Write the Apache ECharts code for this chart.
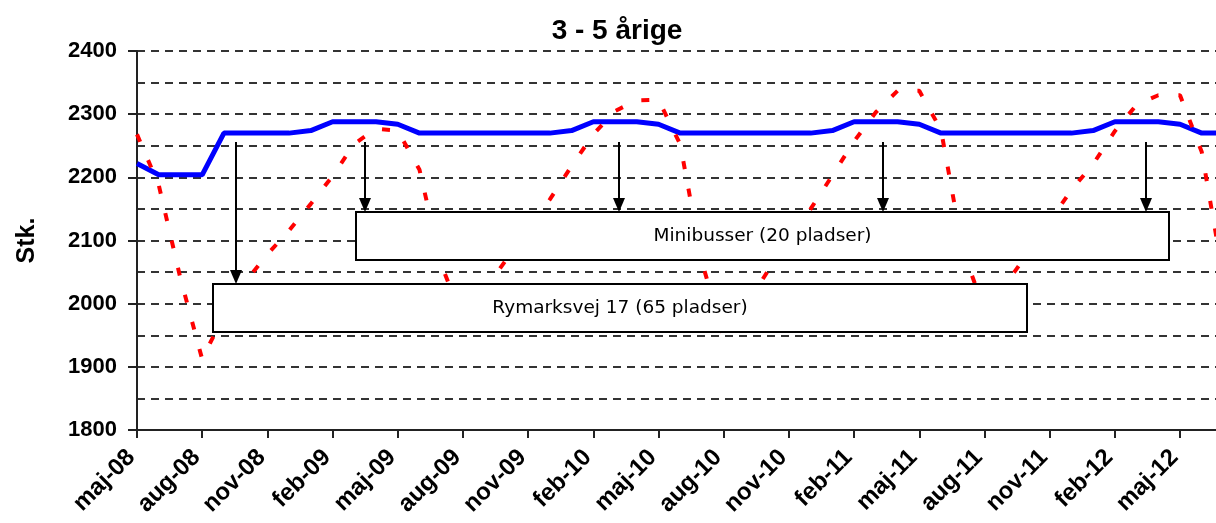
<!DOCTYPE html>
<html>
<head>
<meta charset="utf-8">
<script src="https://cdn.jsdelivr.net/npm/echarts@6/dist/echarts.min.js"></script>
<style>
html,body{margin:0;padding:0;background:#fff;}
#chart{width:1216px;height:523px;}
</style>
</head>
<body>
<div id="chart"></div>
<script>
const title = '3 - 5 årige';
const yAxisName = 'Stk.';
const categories = ['maj-08','jun-08','jul-08','aug-08','sep-08','okt-08','nov-08','dec-08',
  'jan-09','feb-09','mar-09','apr-09','maj-09','jun-09','jul-09','aug-09','sep-09','okt-09','nov-09','dec-09',
  'jan-10','feb-10','mar-10','apr-10','maj-10','jun-10','jul-10','aug-10','sep-10','okt-10','nov-10','dec-10',
  'jan-11','feb-11','mar-11','apr-11','maj-11','jun-11','jul-11','aug-11','sep-11','okt-11','nov-11','dec-11',
  'jan-12','feb-12','mar-12','apr-12','maj-12','jun-12','jul-12'];
// blue line (capacity)
const capacity = [2222,2204,2204,2204,2270,2270,2270,2270,
  2274,2288,2288,2288,2284,2270,2270,2270,2270,2270,2270,2270,
  2274,2288,2288,2288,2284,2270,2270,2270,2270,2270,2270,2270,
  2274,2288,2288,2288,2284,2270,2270,2270,2270,2270,2270,2270,
  2274,2288,2288,2288,2284,2270,2270];
// red dashed line (demand)
const demand = [2268,2188,2040,1912,1982,2035,2078,2116,
  2158,2202,2253,2277,2274,2212,2062,1975,2022,2070,2117,2165,
  2218,2268,2305,2322,2323,2252,2066,1946,1995,2050,2105,2150,
  2203,2257,2303,2337,2337,2275,2085,1990,2032,2080,2130,2180,
  2221,2273,2315,2330,2330,2240,2040];
const boxLabels = ['Minibusser (20 pladser)', 'Rymarksvej 17 (65 pladser)'];

const chart = echarts.init(document.getElementById('chart'), null, {renderer:'canvas'});

const gridDash = {type:[8,6], color:'#333', width:2};

function arrow(x, y0, tip){
  return [
    {type:'line', z:20, shape:{x1:x, y1:y0, x2:x, y2:tip-12}, style:{stroke:'#000', lineWidth:2}},
    {type:'polygon', z:20, shape:{points:[[x-6,tip-14],[x+6,tip-14],[x,tip]]}, style:{fill:'#000'}}
  ];
}
function box(x, y, w, h, text){
  return [
    {type:'rect', z:15, shape:{x:x, y:y, width:w, height:h}, style:{fill:'#fff', stroke:'#000', lineWidth:2}},
    {type:'text', z:16, x:x+w/2, y:y+h/2, style:{text:text, fill:'#000', font:'18.5px "DejaVu Sans"', textAlign:'center', textVerticalAlign:'middle'}}
  ];
}

let graphics = [
  {type:'text', z:20, x:617, y:17, style:{text:title, fill:'#000', font:'bold 28px "Liberation Sans"', textAlign:'center', textVerticalAlign:'top'}}
];
graphics = graphics.concat(box(356,212,813,48,boxLabels[0]));
graphics = graphics.concat(box(213,284,814,48,boxLabels[1]));
graphics = graphics.concat(arrow(236,142,284));
[365,619,883,1146].forEach(x => { graphics = graphics.concat(arrow(x,142,212)); });

const option = {
  animation:false,
  backgroundColor:'#fff',
  grid:{left:137, top:51, width:1086.5, height:379, containLabel:false, outerBoundsMode:'none'},
  xAxis:{
    type:'category', data:categories, boundaryGap:false,
    axisLine:{show:true, lineStyle:{color:'#222', width:2}},
    axisTick:{show:true, interval:2, length:8, lineStyle:{color:'#222', width:2}},
    axisLabel:{interval:2, rotate:45, margin:18, padding:[0,8,0,0], fontFamily:'Liberation Sans', fontWeight:'bold', fontSize:24, color:'#000'},
    splitLine:{show:false}
  },
  yAxis:{
    type:'value', min:1800, max:2400, interval:100,
    name:yAxisName, nameLocation:'middle', nameRotate:90, nameGap:97,
    nameTextStyle:{fontFamily:'Liberation Sans', fontWeight:'bold', fontSize:25, color:'#000'},
    axisLine:{show:true, lineStyle:{color:'#222', width:2}},
    axisTick:{show:true, length:9, lineStyle:{color:'#222', width:2}},
    axisLabel:{margin:20, fontFamily:'Liberation Sans', fontWeight:'bold', fontSize:22, color:'#000',
               formatter: v => String(v)},
    splitLine:{show:true, lineStyle:gridDash},
    minorTick:{show:false, splitNumber:2},
    minorSplitLine:{show:true, lineStyle:gridDash}
  },
  series:[
    {type:'line', name:'Kapacitet', data:capacity, symbol:'none', z:3,
     lineStyle:{color:'#0000ff', width:5}},
    {type:'line', name:'Behov', data:demand, symbol:'none', z:4,
     lineStyle:{color:'#ff0000', width:4, type:[8,20], cap:'butt'}}
  ],
  graphic:graphics
};
chart.setOption(option);
</script>
</body>
</html>
